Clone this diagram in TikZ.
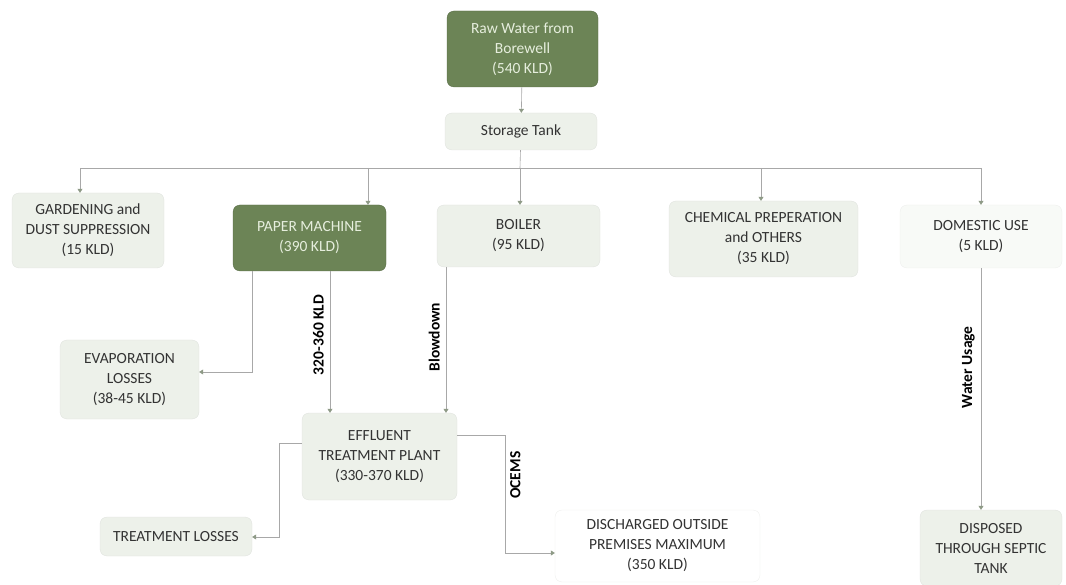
\documentclass[tikz,border=0pt]{standalone}
\usepackage{fontspec}
\setmainfont{Carlito}
\usetikzlibrary{arrows.meta}
\definecolor{darkbox}{HTML}{6C8456}
\definecolor{darktext}{HTML}{E6EEDD}
\definecolor{lightbox}{HTML}{EDF1EA}
\definecolor{palebox}{HTML}{F8FAF7}
\definecolor{boxtext}{HTML}{333333}
\definecolor{linec}{HTML}{A8A8A8}
\definecolor{tipc}{HTML}{8E9A86}
\tikzset{
  box/.style={rounded corners=7pt, fill=lightbox, draw=lightbox!85!black!60, line width=0.3pt, align=center, inner sep=0pt, text=boxtext, font=\fontsize{15.5}{20}\selectfont},
  darkb/.style={box, fill=darkbox, draw=darkbox!80!black, text=darktext},
  paleb/.style={box, fill=palebox, draw=palebox!95!black},
  conn/.style={draw=linec, line width=0.6pt, -{Triangle[width=5pt,length=4pt,color=tipc]}},
  line/.style={draw=linec, line width=0.6pt},
  lab/.style={rotate=90, font=\bfseries\fontsize{15.5}{16}\selectfont, text=black, inner sep=2pt}
}
\begin{document}
\begin{tikzpicture}[x=1pt,y=-1pt]
\useasboundingbox (0,0) rectangle (1066,585);
% nodes
\node[darkb, minimum width=151pt, minimum height=76pt] (raw) at (522.5,49) {Raw Water from\\Borewell\\(540 KLD)};
\node[box, minimum width=152pt, minimum height=37pt] (tank) at (521,131.5) {Storage Tank};
\node[box, minimum width=152pt, minimum height=75pt] (garden) at (88,230.5) {GARDENING and\\DUST SUPPRESSION\\(15 KLD)};
\node[darkb, minimum width=153pt, minimum height=66pt] (paper) at (309.5,238) {PAPER MACHINE\\(390 KLD)};
\node[box, minimum width=163pt, minimum height=62pt] (boiler) at (518.5,236) {BOILER\\(95 KLD)};
\node[box, minimum width=189pt, minimum height=76pt] (chem) at (763.5,239) {CHEMICAL PREPERATION\\and OTHERS\\(35 KLD)};
\node[paleb, minimum width=162pt, minimum height=63pt] (dom) at (981,236.5) {DOMESTIC USE\\(5 KLD)};
\node[box, minimum width=139pt, minimum height=79pt] (evap) at (129.5,379.5) {EVAPORATION\\LOSSES\\(38-45 KLD)};
\node[box, minimum width=155pt, minimum height=87pt] (etp) at (379.5,456.5) {EFFLUENT\\TREATMENT PLANT\\(330-370 KLD)};
\node[box, minimum width=152pt, minimum height=39pt] (tl) at (176,536.5) {TREATMENT LOSSES};
\node[paleb, fill=white, minimum width=205pt, minimum height=72pt] (disc) at (657.5,546) {DISCHARGED OUTSIDE\\PREMISES MAXIMUM\\(350 KLD)};
\node[box, minimum width=142pt, minimum height=76pt] (sep) at (991,548) {DISPOSED\\THROUGH SEPTIC\\TANK};
% bus
\coordinate (bus) at (520,168);
\coordinate (bl) at (80,168);
\coordinate (br) at (981,168);
\draw[conn] (raw) -- (tank);
\draw[line] (tank) -- (bus);
\draw[line] (bl) -- (br);
\draw[conn] (bl) -- (garden.north -| bl);
\draw[conn] (bl -| 368,0) -- (paper.north -| 368,0);
\draw[conn] (bus) -- (boiler.north -| bus);
\draw[conn] (bl -| 761,0) -- (chem.north -| 761,0);
\draw[conn] (br) -- (dom.north -| br);
% paper machine
\draw[conn] (paper.south -| 252,0) |- (evap.east |- 0,372);
\draw[conn] (paper.south -| 330,0) -- node[lab, pos=0.45, above=4pt] {320-360 KLD} (etp.north -| 330,0);
% boiler
\draw[conn] (boiler.south -| 446,0) -- node[lab, pos=0.48, above=4pt] {Blowdown} (etp.north -| 446,0);
% domestic
\draw[conn] (dom.south -| br) -- node[lab, pos=0.41, above=4pt] {Water Usage} (sep.north -| br);
% ETP outputs
\coordinate (oc) at (505,435);
\draw[conn] (etp.east |- oc) -- (oc) |- node[lab, pos=0.17, below=3pt] {OCEMS} (disc.west |- 0,553);
\coordinate (tlc) at (279,443);
\draw[conn] (etp.west |- tlc) -- (tlc) |- (tl.east |- 0,537);
\end{tikzpicture}
\end{document}
